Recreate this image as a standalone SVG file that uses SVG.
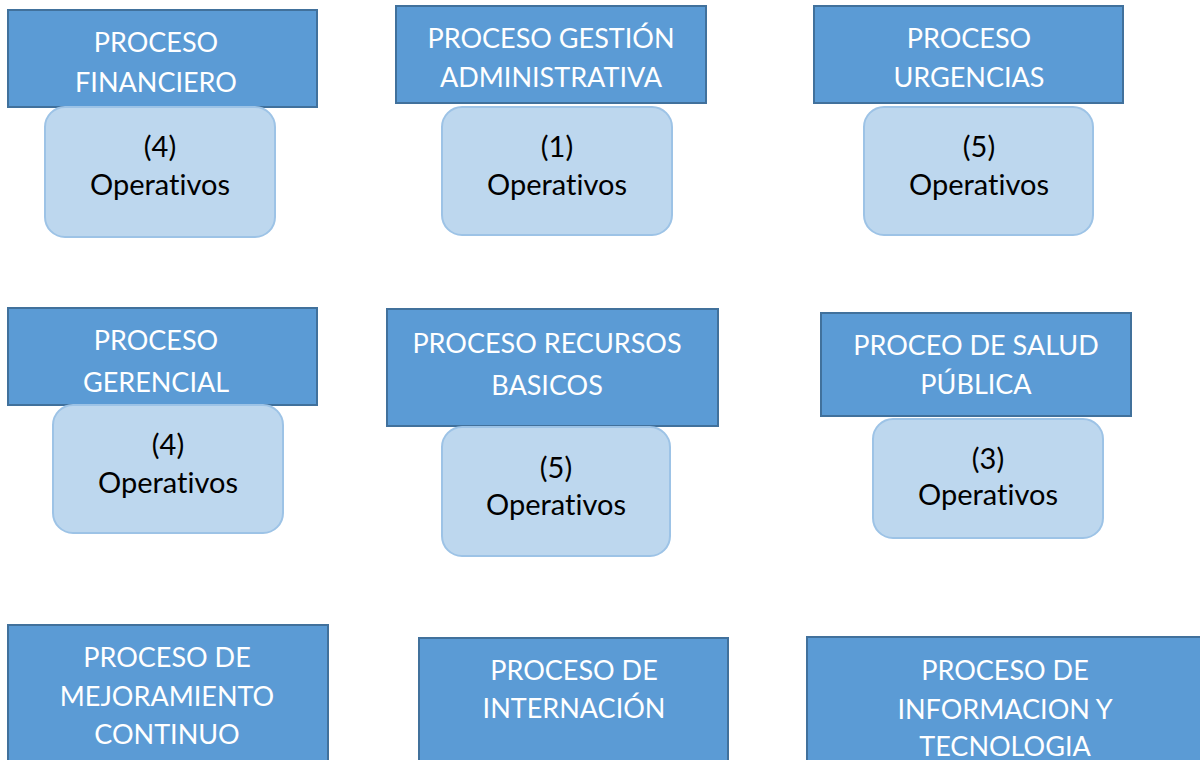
<svg xmlns="http://www.w3.org/2000/svg" width="1200" height="760" viewBox="0 0 1200 760">
<style>
.p{fill:#5B9BD5;stroke:#41719C;stroke-width:2}
.o{fill:#BDD7EE;stroke:#9DC3E6;stroke-width:2}
.pt{font-family:Lato,"Liberation Sans",sans-serif;font-size:27px;fill:#FFFFFF;text-anchor:middle;font-variant-ligatures:none}
.ot{font-family:Lato,"Liberation Sans",sans-serif;font-size:29px;fill:#000000;text-anchor:middle;font-variant-ligatures:none}
</style>
<rect width="1200" height="760" fill="#FFFFFF"/>
<g id="connectors"></g>
<g id="financiero">
<rect class="p" x="8" y="10" width="309" height="97"/>
<text class="pt" x="156" y="52">PROCESO</text>
<text class="pt" x="156" y="92">FINANCIERO</text>
</g>
<g id="financiero-op">
<rect class="o" x="45" y="107" width="230" height="130" rx="20"/>
<text class="ot" x="160" y="157">(4)</text>
<text class="ot" x="160" y="195">Operativos</text>
</g>
<g id="gestion">
<rect class="p" x="396" y="6" width="310" height="97"/>
<text class="pt" x="551" y="48">PROCESO GESTIÓN</text>
<text class="pt" x="551" y="87">ADMINISTRATIVA</text>
</g>
<g id="gestion-op">
<rect class="o" x="442" y="107" width="230" height="128" rx="20"/>
<text class="ot" x="557" y="157">(1)</text>
<text class="ot" x="557" y="195">Operativos</text>
</g>
<g id="urgencias">
<rect class="p" x="814" y="6" width="309" height="97"/>
<text class="pt" x="969" y="48">PROCESO</text>
<text class="pt" x="969" y="87">URGENCIAS</text>
</g>
<g id="urgencias-op">
<rect class="o" x="864" y="107" width="229" height="128" rx="20"/>
<text class="ot" x="979" y="157">(5)</text>
<text class="ot" x="979" y="195">Operativos</text>
</g>
<g id="gerencial">
<rect class="p" x="8" y="308" width="309" height="97"/>
<text class="pt" x="156" y="350">PROCESO</text>
<text class="pt" x="156" y="392">GERENCIAL</text>
</g>
<g id="gerencial-op">
<rect class="o" x="53" y="405" width="230" height="128" rx="20"/>
<text class="ot" x="168" y="455">(4)</text>
<text class="ot" x="168" y="493">Operativos</text>
</g>
<g id="recursos">
<rect class="p" x="387" y="309" width="331" height="117"/>
<text class="pt" x="547" y="353">PROCESO RECURSOS</text>
<text class="pt" x="547" y="395">BASICOS</text>
</g>
<g id="recursos-op">
<rect class="o" x="442" y="427" width="228" height="129" rx="20"/>
<text class="ot" x="556" y="478">(5)</text>
<text class="ot" x="556" y="515">Operativos</text>
</g>
<g id="salud">
<rect class="p" x="821" y="313" width="310" height="103"/>
<text class="pt" x="976" y="355">PROCEO DE SALUD</text>
<text class="pt" x="976" y="394">PÚBLICA</text>
</g>
<g id="salud-op">
<rect class="o" x="873" y="419" width="230" height="119" rx="20"/>
<text class="ot" x="988" y="469">(3)</text>
<text class="ot" x="988" y="505">Operativos</text>
</g>
<g id="mejoramiento">
<rect class="p" x="8" y="625" width="320" height="145"/>
<text class="pt" x="167" y="667">PROCESO DE</text>
<text class="pt" x="167" y="706">MEJORAMIENTO</text>
<text class="pt" x="167" y="744">CONTINUO</text>
</g>
<g id="internacion">
<rect class="p" x="419" y="638" width="309" height="132"/>
<text class="pt" x="574" y="680">PROCESO DE</text>
<text class="pt" x="574" y="718">INTERNACIÓN</text>
</g>
<g id="informacion">
<rect class="p" x="807" y="637" width="410" height="133"/>
<text class="pt" x="1005" y="680">PROCESO DE</text>
<text class="pt" x="1005" y="719">INFORMACION Y</text>
<text class="pt" x="1005" y="756">TECNOLOGIA</text>
</g>
</svg>
